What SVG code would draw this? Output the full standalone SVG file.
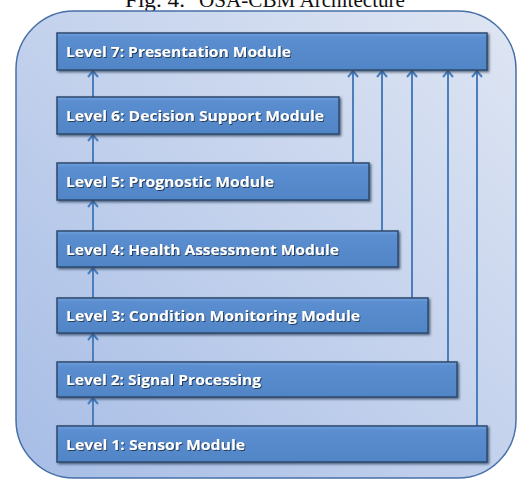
<svg xmlns="http://www.w3.org/2000/svg" width="517" height="481" viewBox="0 0 517 481">
<defs>
<linearGradient id="bg" x1="0" y1="1" x2="1" y2="0">
<stop offset="0" stop-color="#a7bde6"/>
<stop offset="1" stop-color="#dfe6f3"/>
</linearGradient>
<linearGradient id="boxg" x1="0" y1="0" x2="0" y2="1">
<stop offset="0" stop-color="#6fa1de"/>
<stop offset="0.12" stop-color="#5b8ed0"/>
<stop offset="1" stop-color="#5085c6"/>
</linearGradient>
<filter id="sh" x="-5%" y="-20%" width="110%" height="150%">
<feDropShadow dx="1.5" dy="1.5" stdDeviation="1" flood-color="#1d2f48" flood-opacity="0.7"/>
</filter>
<filter id="tsh" x="-5%" y="-30%" width="110%" height="160%">
<feDropShadow dx="1" dy="1" stdDeviation="0.6" flood-color="#1a2a40" flood-opacity="0.8"/>
</filter>
<marker id="ah" markerWidth="12" markerHeight="12" refX="9" refY="6" orient="auto" markerUnits="userSpaceOnUse" viewBox="0 0 12 12">
<path d="M3,1 L9,6 L3,11" fill="none" stroke="#4a7ebd" stroke-width="2"/>
</marker>
</defs>
<style>
.box{fill:url(#boxg);stroke:#2e4a6e;stroke-width:1.5;filter:url(#sh)}
.lbl{font-family:"Open Sans","Liberation Sans",sans-serif;font-weight:bold;font-size:14px;fill:#ffffff;filter:url(#tsh)}
.conn path{fill:none;stroke:#4a7ebd;stroke-width:2;marker-end:url(#ah)}
.ttl{font-family:"Liberation Serif",serif;font-size:20px;fill:#111111}
</style>
<text class="ttl" x="125" y="7" textLength="60" lengthAdjust="spacingAndGlyphs">Fig. 4.</text>
<text class="ttl" x="199" y="7" textLength="206" lengthAdjust="spacingAndGlyphs">OSA-CBM Architecture</text>
<rect x="16" y="11" width="500" height="467" rx="58" ry="58" fill="url(#bg)" stroke="#4670a6" stroke-width="1.5"/>
<g class="conn" id="connectors">
<path d="M93,97 V71"/>
<path d="M93,163 V135"/>
<path d="M93,231 V201"/>
<path d="M93,298 V268"/>
<path d="M93,362 V334"/>
<path d="M93,426 V398"/>
<path d="M353,163 V71"/>
<path d="M382,231 V71"/>
<path d="M412,298 V71"/>
<path d="M448,362 V71"/>
<path d="M477,426 V71"/>
</g>
<g id="level7"><rect class="box" x="57" y="33" width="430" height="37"/><text class="lbl" x="66" y="57" textLength="225" lengthAdjust="spacingAndGlyphs">Level 7: Presentation Module</text></g>
<g id="level6"><rect class="box" x="57" y="97" width="282" height="37"/><text class="lbl" x="66" y="121" textLength="258" lengthAdjust="spacingAndGlyphs">Level 6: Decision Support Module</text></g>
<g id="level5"><rect class="box" x="57" y="163" width="312" height="37"/><text class="lbl" x="66" y="187" textLength="208" lengthAdjust="spacingAndGlyphs">Level 5: Prognostic Module</text></g>
<g id="level4"><rect class="box" x="57" y="231" width="341" height="36"/><text class="lbl" x="66" y="255" textLength="273" lengthAdjust="spacingAndGlyphs">Level 4: Health Assessment Module</text></g>
<g id="level3"><rect class="box" x="57" y="298" width="371" height="35"/><text class="lbl" x="66" y="321" textLength="294" lengthAdjust="spacingAndGlyphs">Level 3: Condition Monitoring Module</text></g>
<g id="level2"><rect class="box" x="57" y="362" width="400" height="35"/><text class="lbl" x="66" y="385" textLength="195" lengthAdjust="spacingAndGlyphs">Level 2: Signal Processing</text></g>
<g id="level1"><rect class="box" x="57" y="426" width="430" height="36"/><text class="lbl" x="66" y="450" textLength="179" lengthAdjust="spacingAndGlyphs">Level 1: Sensor Module</text></g>
</svg>
